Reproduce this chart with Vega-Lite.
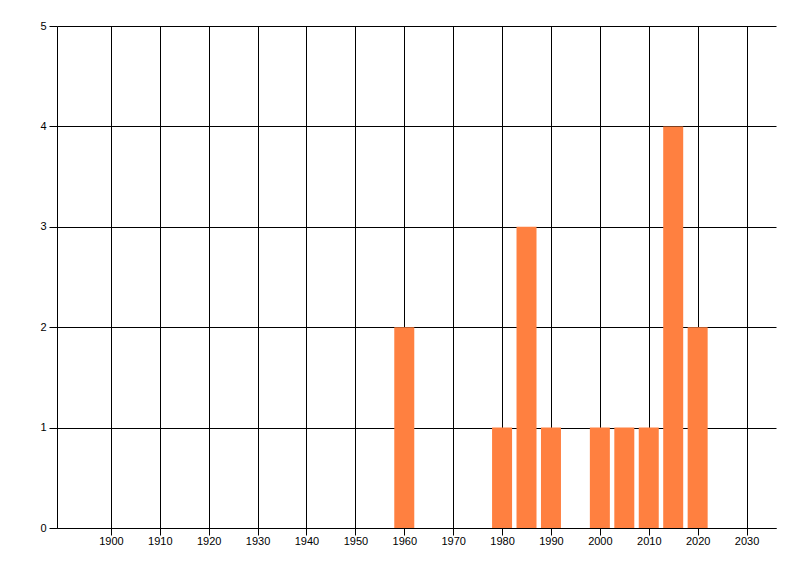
{
  "$schema": "https://vega.github.io/schema/vega-lite/v6.json",
  "width": 719,
  "height": 502,
  "autosize": "none",
  "padding": {"left": 57, "top": 26, "right": 24, "bottom": 48},
  "background": "white",
  "config": {
    "view": {"stroke": null},
    "axis": {
      "labelFont": "Liberation Sans",
      "labelFontSize": 11,
      "labelColor": "#000000",
      "gridColor": "#000000",
      "gridOpacity": 1,
      "gridWidth": 1,
      "domainColor": "#000000",
      "domainWidth": 1,
      "tickColor": "#000000",
      "title": null
    }
  },
  "data": {
    "values": [
      {"year": 1960, "count": 2},
      {"year": 1980, "count": 1},
      {"year": 1985, "count": 3},
      {"year": 1990, "count": 1},
      {"year": 2000, "count": 1},
      {"year": 2005, "count": 1},
      {"year": 2010, "count": 1},
      {"year": 2015, "count": 4},
      {"year": 2020, "count": 2}
    ]
  },
  "mark": {"type": "bar", "color": "#FF8040", "width": 20},
  "encoding": {
    "x": {
      "field": "year",
      "type": "quantitative",
      "scale": {"domain": [1890, 2035], "nice": false, "zero": false},
      "axis": {
        "values": [1900, 1910, 1920, 1930, 1940, 1950, 1960, 1970, 1980, 1990, 2000, 2010, 2020, 2030],
        "format": "d",
        "tickSize": 7,
        "labelPadding": 0,
        "labelFlush": false,
        "labelOverlap": false
      }
    },
    "y": {
      "field": "count",
      "type": "quantitative",
      "scale": {"domain": [0, 5], "nice": false},
      "axis": {
        "values": [0, 1, 2, 3, 4, 5],
        "tickSize": 8,
        "labelPadding": 3,
        "labelFlush": false
      }
    }
  }
}
